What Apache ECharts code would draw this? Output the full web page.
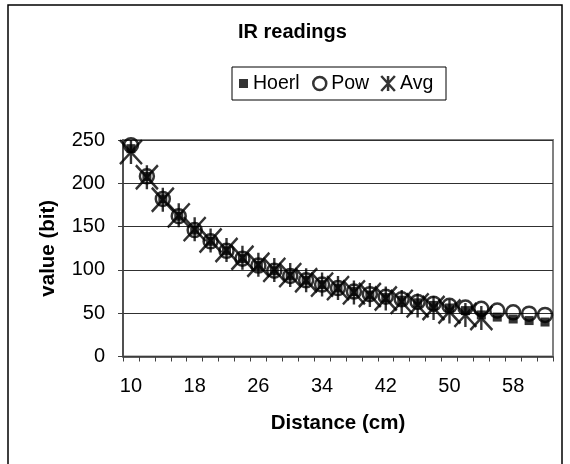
<!DOCTYPE html>
<html>
<head>
    <meta charset="utf-8">
    <title>IR readings</title>
    <style>
        html, body { margin: 0; padding: 0; background: #fff; }
        #container { width: 570px; height: 464px; }
    </style>
</head>
<body>
<div id="container"></div>
<script src="https://cdn.jsdelivr.net/npm/echarts@6/dist/echarts.min.js"></script>
<script type="text/javascript">
    // distance in cm, one category every 2 cm
    var distances = ['10', '12', '14', '16', '18', '20', '22', '24', '26', '28', '30', '32', '34', '36',
        '38', '40', '42', '44', '46', '48', '50', '52', '54', '56', '58', '60', '62'];
    var hoerl = [240, 208, 182, 162, 146, 133, 122, 113, 105, 99, 93, 88, 83, 79,
        75, 71, 68, 65, 62, 59, 56, 53, 48, 45.5, 43.3, 41.5, 39.8];
    var pow = [244, 208, 182, 162, 146, 133, 122, 113, 105, 99, 93, 88, 83, 79,
        75, 72, 69, 66, 63, 61, 58.5, 56.5, 55, 53, 51, 49.5, 48];
    var avg = [236, 207, 181, 163, 147, 134, 123, 114, 106, 100, 94, 88, 83, 79,
        74, 71, 67, 63, 59, 56, 52, 48, 44.5];

    var font = 'Liberation Sans, Arial, sans-serif';
    var asterisk = 'path://M0,0L20,22M20,0L0,22M10,0L10,22';

    var dom = document.getElementById('container');
    var myChart = echarts.init(dom);

    myChart.setOption({
        backgroundColor: '#fff',
        animation: false,
        title: {
            text: 'IR readings',
            left: 238,
            top: 22,
            padding: 0,
            textStyle: { color: '#000', fontFamily: font, fontWeight: 'bold', fontSize: 20 }
        },
        graphic: [
            { //外框
                type: 'rect',
                shape: { x: 8, y: 5, width: 554, height: 470 },
                style: { fill: 'none', stroke: '#000', lineWidth: 1.5 },
                silent: true
            },
            { //图例框
                type: 'rect',
                shape: { x: 232, y: 67, width: 214, height: 33 },
                style: { fill: 'none', stroke: '#000', lineWidth: 1 },
                silent: true
            }
        ],
        legend: [
            {
                data: [{ name: 'Hoerl', icon: 'rect', itemStyle: { color: '#000', borderWidth: 0 } }],
                left: 239, top: 73.5, padding: 0,
                itemWidth: 9, itemHeight: 9,
                textStyle: { color: '#000', fontFamily: font, fontSize: 19.5 }
            },
            {
                data: [{ name: 'Pow', icon: 'circle', itemStyle: { color: 'transparent', borderColor: '#000', borderWidth: 2.5 } }],
                left: 312, top: 73.5, padding: 0,
                itemWidth: 13, itemHeight: 13,
                textStyle: { color: '#000', fontFamily: font, fontSize: 19.5 }
            },
            {
                data: [{ name: 'Avg', icon: asterisk, itemStyle: { color: 'transparent', borderColor: '#000', borderWidth: 2.5 } }],
                left: 380, top: 73.5, padding: 0,
                itemWidth: 14, itemHeight: 15,
                textStyle: { color: '#000', fontFamily: font, fontSize: 19.5 }
            }
        ],
        grid: {
            left: 123,
            top: 140,
            width: 430,
            height: 216.5,
            show: true,
            borderColor: '#808080',
            borderWidth: 2,
            backgroundColor: '#fff'
        },
        xAxis: {
            type: 'category',
            data: distances,
            boundaryGap: true,
            name: 'Distance (cm)',
            nameLocation: 'middle',
            nameGap: 56,
            nameTextStyle: { color: '#000', fontFamily: font, fontWeight: 'bold', fontSize: 20.5 },
            axisLine: { lineStyle: { color: '#404040', width: 1.5 } },
            axisTick: { show: true, interval: 0, length: 5, inside: false, lineStyle: { color: '#404040' } },
            axisLabel: { interval: 3, margin: 20, color: '#000', fontFamily: font, fontSize: 20 },
            splitLine: { show: false }
        },
        yAxis: {
            type: 'value',
            min: 0,
            max: 250,
            interval: 50,
            name: 'value (bit)',
            nameLocation: 'middle',
            nameGap: 64,
            nameTextStyle: { color: '#000', fontFamily: font, fontWeight: 'bold', fontSize: 20.5 },
            axisLine: { show: true, lineStyle: { color: '#404040', width: 1.5 } },
            axisTick: { show: true, length: 5, lineStyle: { color: '#404040' } },
            axisLabel: { margin: 18, color: '#000', fontFamily: font, fontSize: 20 },
            splitLine: { show: true, lineStyle: { color: '#303030', width: 1 } }
        },
        series: [
            {
                name: 'Hoerl',
                type: 'scatter',
                data: hoerl,
                symbol: 'rect',
                symbolSize: 9,
                itemStyle: { color: '#000' },
                z: 2
            },
            {
                name: 'Pow',
                type: 'scatter',
                data: pow,
                symbol: 'circle',
                symbolSize: 14,
                itemStyle: { color: 'transparent', borderColor: '#000', borderWidth: 2.5 },
                z: 3
            },
            {
                name: 'Avg',
                type: 'scatter',
                data: avg,
                symbol: asterisk,
                symbolSize: [22, 24],
                itemStyle: { color: 'transparent', borderColor: '#000', borderWidth: 2.5 },
                z: 4
            }
        ]
    });
</script>
</body>
</html>
